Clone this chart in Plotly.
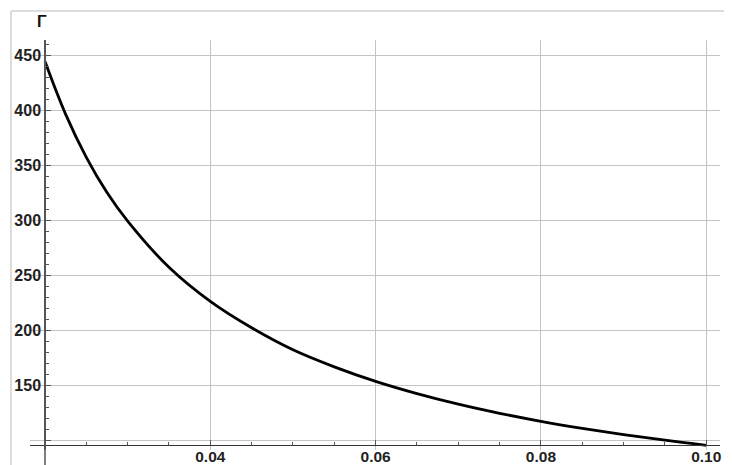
import plotly.graph_objects as go

# Data
x_vals = [0.020, 0.0225, 0.025, 0.0275, 0.030, 0.035, 0.040, 0.045, 0.050,
          0.055, 0.060, 0.065, 0.070, 0.075, 0.080, 0.085, 0.090, 0.095, 0.100]
gamma_vals = [444, 396, 357, 325, 299, 257, 226, 202, 182,
              166.5, 153.3, 142.2, 132.6, 124.3, 117.0, 110.6, 104.9, 99.8, 95.2]

x_tickvals = [0.02, 0.04, 0.06, 0.08, 0.10]
x_ticktext = ["", "0.04", "0.06", "0.08", "0.10"]
y_tickvals = [100, 150, 200, 250, 300, 350, 400, 450]
y_ticktext = ["", "150", "200", "250", "300", "350", "400", "450"]
y_label = "Γ"

# axis ranges / crossing
x_range = [0.018185, 0.101665]
y_range = [90.91, 463.64]
x_cross = 0.02      # where y axis sits
y_cross = 95.45     # where x axis sits

ypos = (x_cross - x_range[0]) / (x_range[1] - x_range[0])
xpos = (y_cross - y_range[0]) / (y_range[1] - y_range[0])

# The page body has an 8px margin; size the figure to fill the rest.
OFF = 8
W, H = 732 - OFF, 465 - OFF
ml, mr, mt, mb = 30 - OFF, 12, 40 - OFF, 15
pw, ph = W - ml - mr, H - mt - mb

def px_to_paper_x(p):   # p: page pixel
    return (p - OFF - ml) / pw

def px_to_paper_y(p):
    return (H - mb - (p - OFF)) / ph

font_fam = "Liberation Sans, Arial, sans-serif"
axis_col = "#555555"
grid_col = "#c4c4c4"

fig = go.Figure()
fig.add_trace(go.Scatter(
    x=x_vals, y=gamma_vals, mode="lines", line_shape="spline",
    line=dict(color="black", width=2.8), hoverinfo="skip", showlegend=False))

fig.update_layout(
    width=W, height=H,
    margin=dict(l=ml, r=mr, t=mt, b=mb, autoexpand=False),
    paper_bgcolor="white", plot_bgcolor="white",
    xaxis=dict(
        range=x_range, anchor="free", position=xpos, automargin=False,
        tickvals=x_tickvals, ticktext=x_ticktext,
        showgrid=True, gridcolor=grid_col, gridwidth=1,
        showline=True, linecolor="#333333", linewidth=1.2,
        ticks="inside", ticklen=5, tickcolor=axis_col,
        zeroline=False, ticklabelstandoff=-3,
        tickfont=dict(family=font_fam, size=15.5, color="#222222", weight="bold"),
        minor=dict(dtick=0.005, tick0=0.0, ticks="inside", ticklen=3,
                   tickcolor=axis_col, showgrid=False),
    ),
    yaxis=dict(
        range=y_range, anchor="free", position=ypos, automargin=False,
        tickvals=y_tickvals, ticktext=y_ticktext,
        showgrid=True, gridcolor=grid_col, gridwidth=1,
        showline=True, linecolor=axis_col, linewidth=1.5,
        ticks="inside", ticklen=5, tickcolor=axis_col,
        zeroline=False,
        tickfont=dict(family=font_fam, size=16, color="#222222", weight="bold"),
        minor=dict(dtick=10, tick0=0, ticks="inside", ticklen=3,
                   tickcolor=axis_col, showgrid=False),
    ),
    annotations=[dict(
        text=y_label, xref="paper", yref="paper",
        x=px_to_paper_x(41.5), y=px_to_paper_y(21.5),
        showarrow=False, xanchor="center", yanchor="middle",
        font=dict(family=font_fam, size=16, color="#111111", weight="bold"))],
    shapes=[
        # outer frame (top and left edges)
        dict(type="line", xref="paper", yref="paper",
             x0=px_to_paper_x(11), x1=px_to_paper_x(740),
             y0=px_to_paper_y(11), y1=px_to_paper_y(11),
             line=dict(color="#d0d0d0", width=1.5), layer="below"),
        dict(type="line", xref="paper", yref="paper",
             x0=px_to_paper_x(11), x1=px_to_paper_x(11),
             y0=px_to_paper_y(11), y1=px_to_paper_y(470),
             line=dict(color="#d0d0d0", width=1.5), layer="below"),
        # y axis continuing below the x axis
        dict(type="line", xref="paper", yref="paper",
             x0=ypos, x1=ypos, y0=0, y1=px_to_paper_y(466),
             line=dict(color=axis_col, width=1.5)),
    ],
)

fig.write_html("out.html")
